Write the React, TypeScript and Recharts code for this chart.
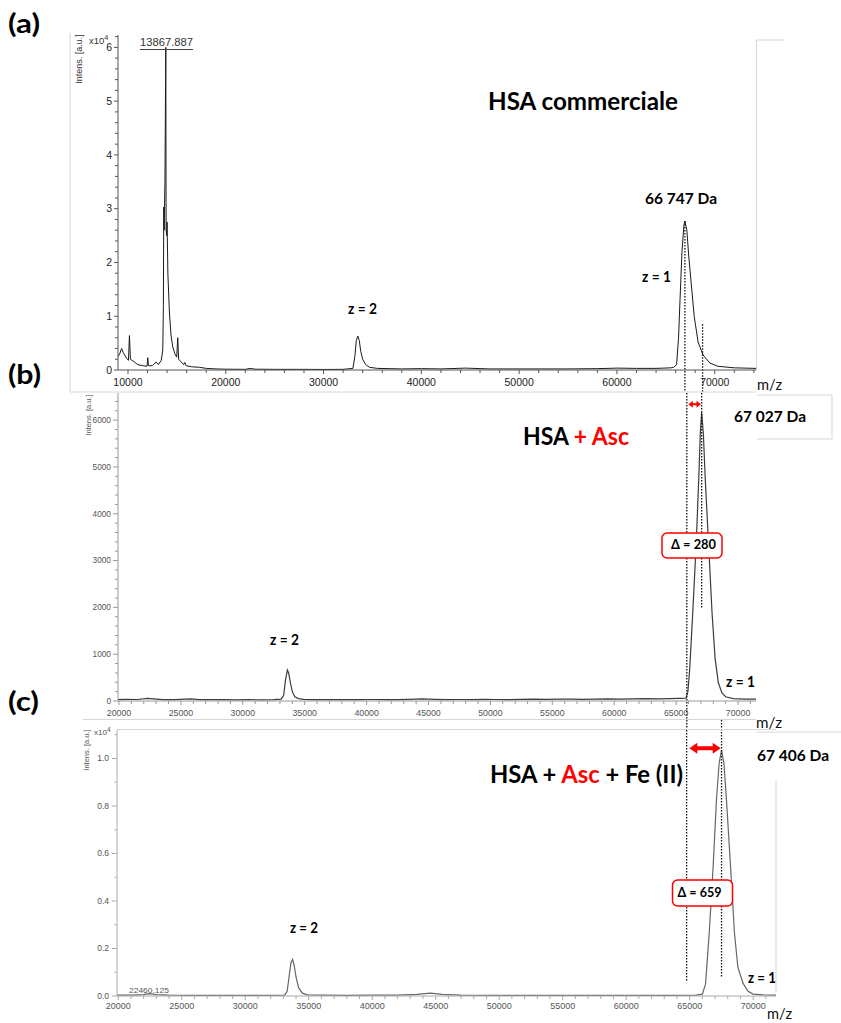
import React from 'react';
import { LineChart, Line, XAxis, YAxis, ReferenceLine } from 'recharts';

// (a) HSA commerciale  — intensity in x10^4 a.u.
const mzA = [8980, 9150, 9350, 9500, 9650, 9850, 10050, 10150, 10250, 10500,
  11000, 11500, 11950, 12020, 12100, 12500, 12880, 13100, 13400, 13560,
  13620, 13660, 13700, 13780, 13868, 13900, 13960, 14000, 14080, 14240,
  14400, 14580, 14800, 14980, 15090, 15180, 15440, 15700, 15810, 15950,
  16500, 17310, 18000, 19000, 20000, 22000, 22500, 23000, 25000, 28000,
  30000, 32000, 33000, 33200, 33350, 33500, 33650, 33800, 34000, 34300,
  34700, 35500, 38000, 40000, 42000, 44500, 47000, 50000, 55000, 58000,
  60000, 62000, 64000, 65500, 65800, 66100, 66300, 66450, 66650, 66850,
  66950, 67150, 67350, 67600, 67900, 68300, 68800, 69500, 70300, 72000, 74220];
const intA = [0.25, 0.3, 0.4, 0.33, 0.28, 0.22, 0.18, 0.64, 0.2, 0.17,
  0.1, 0.08, 0.07, 0.23, 0.08, 0.08, 0.15, 0.1, 0.18, 0.37,
  1.2, 3.03, 2.6, 3.5, 6.0, 2.6, 2.5, 2.75, 1.8, 1.06,
  0.65, 0.43, 0.3, 0.24, 0.6, 0.2, 0.15, 0.1, 0.14, 0.08,
  0.06, 0.05, 0.03, 0.02, 0.015, 0.012, 0.03, 0.015, 0.012, 0.012,
  0.01, 0.012, 0.03, 0.25, 0.55, 0.63, 0.55, 0.35, 0.2, 0.1,
  0.05, 0.03, 0.02, 0.025, 0.02, 0.035, 0.02, 0.02, 0.02, 0.025,
  0.035, 0.03, 0.03, 0.04, 0.05, 0.1, 0.6, 1.3, 2.2, 2.7,
  2.77, 2.6, 2.1, 1.6, 1.0, 0.52, 0.28, 0.13, 0.07, 0.04, 0.03];

// (b) HSA + Asc — intensity in a.u.
const mzB = [19920, 20500, 21500, 22300, 22800, 23500, 24500, 25800, 26500, 27500,
  28500, 29500, 30500, 31500, 32500, 33100, 33300, 33450, 33600, 33700,
  33850, 34000, 34200, 34500, 34900, 35500, 36500, 37500, 38500, 39500,
  40500, 41500, 42500, 43500, 44500, 45500, 46500, 47500, 48500, 49500,
  50500, 51500, 52500, 53500, 54500, 55500, 56500, 57500, 58500, 59500,
  60500, 61500, 62500, 63500, 64500, 65300, 65800, 65950, 66100, 66340,
  66610, 66820, 66950, 67060, 67200, 67360, 67630, 67900, 68150, 68410,
  68700, 69000, 69600, 70500, 71450];
const intB = [30, 35, 32, 55, 45, 30, 28, 45, 30, 28,
  30, 26, 28, 25, 28, 40, 120, 450, 660, 600,
  380, 200, 90, 50, 35, 30, 28, 30, 28, 30,
  32, 30, 28, 35, 45, 35, 30, 32, 30, 35,
  32, 30, 35, 40, 35, 38, 40, 35, 40, 45,
  40, 45, 50, 45, 50, 55, 60, 200, 700, 1880,
  3300, 4700, 5700, 6170, 5700, 4700, 3300, 1880, 900, 390,
  170, 90, 50, 40, 40];

// (c) HSA + Asc + Fe(II) — intensity in x10^4 a.u.
const mzC = [19900, 21000, 22000, 22460, 23000, 24000, 26000, 28000, 30000, 32000,
  33100, 33300, 33450, 33600, 33730, 33850, 34000, 34200, 34500, 34900,
  36000, 38000, 40000, 42000, 43500, 44600, 45500, 47000, 50000, 53000,
  56000, 59000, 62000, 64000, 65500, 66000, 66250, 66540, 66850, 67110,
  67320, 67510, 67700, 67900, 68220, 68530, 68800, 69210, 69600, 70000, 70800, 71800];
const intC = [0.004, 0.004, 0.006, 0.01, 0.006, 0.004, 0.003, 0.003, 0.003, 0.003,
  0.004, 0.02, 0.08, 0.14, 0.154, 0.13, 0.08, 0.035, 0.012, 0.005,
  0.004, 0.003, 0.004, 0.004, 0.007, 0.012, 0.007, 0.004, 0.003, 0.003,
  0.003, 0.003, 0.003, 0.003, 0.004, 0.008, 0.05, 0.264, 0.544, 0.825,
  0.98, 1.035, 0.98, 0.825, 0.544, 0.264, 0.12, 0.053, 0.02, 0.008, 0.005, 0.004];

const xTicksA = Array.from({ length: 33 }, (_, i) => 10000 + i * 2000);
const yTicksA = Array.from({ length: 32 }, (_, i) => +(i * 0.2).toFixed(1));
const xTicksBC = Array.from({ length: 52 }, (_, i) => 20000 + i * 1000);
const yTicksB = Array.from({ length: 33 }, (_, i) => i * 200);
const yTicksC = Array.from({ length: 12 }, (_, i) => +(i * 0.1).toFixed(1));

const specA = mzA.map((x, i) => ({ x, y: intA[i] }));
const specB = mzB.map((x, i) => ({ x, y: intB[i] }));
const specC = mzC.map((x, i) => ({ x, y: intC[i] }));

const AX = 'Liberation Sans, Arial, sans-serif';
const TXT = 'Lato, "Open Sans", sans-serif';

const yTick = (isMajor: (v: number) => boolean, fmt: (v: number) => string, fs: number, col: string, lc: string, maj = 5, min = 3, gap = 7) =>
  (props: any) => {
    const { x, y, payload } = props;
    const v = payload.value;
    const m = isMajor(v);
    return (
      <g>
        <line x1={x} x2={x - (m ? maj : min)} y1={y} y2={y} stroke={lc} strokeWidth={1} />
        {m && <text x={x - gap} y={y} dy="0.35em" textAnchor="end" fontSize={fs} fill={col} fontFamily={AX}>{fmt(v)}</text>}
      </g>
    );
  };

const xTick = (isMajor: (v: number) => boolean, fs: number, col: string, lc: string, off: number) =>
  (props: any) => {
    const { x, y, payload } = props;
    const v = payload.value;
    const m = isMajor(v);
    return (
      <g>
        <line x1={x} x2={x} y1={y} y2={y + (m ? 4 : 3)} stroke={lc} strokeWidth={1} />
        {m && <text x={x} y={y + off} textAnchor="middle" fontSize={fs} fill={col} fontFamily={AX}>{v}</text>}
      </g>
    );
  };

const dotted = { stroke: '#111', strokeWidth: 1.3, strokeDasharray: '1.5 1.5' };

const arrow = (x1: number, x2: number, y: number, sh: number, hl: number, hh: number) =>
  [[x1, y], [x1 + hl, y - hh], [x1 + hl, y - sh / 2], [x2 - hl, y - sh / 2], [x2 - hl, y - hh], [x2, y],
   [x2 - hl, y + hh], [x2 - hl, y + sh / 2], [x1 + hl, y + sh / 2], [x1 + hl, y + hh]].map(p => p.join(',')).join(' ');

const Overlay = () => (
  <svg width={841} height={1023} style={{ position: 'absolute', left: 0, top: 0, pointerEvents: 'none' }}>
    {/* frames */}
    <g stroke="#d6d6d6" strokeWidth={1} fill="none">
      <line x1={70} y1={33} x2={70} y2={392} />
      <line x1={70} y1={392} x2={756} y2={392} />
      <line x1={756.5} y1={40} x2={756.5} y2={370} />
      <line x1={756} y1={40} x2={784} y2={40} />
      <polyline points="757,395 832,395 832,439 757,439" />
      <line x1={83} y1={719.5} x2={756} y2={719.5} />
      <line x1={117} y1={729.5} x2={776} y2={729.5} />
      <line x1={756} y1={732} x2={841} y2={732} />
      <line x1={776} y1={780} x2={776} y2={993} />
    </g>

    {/* panel letters */}
    <g fontFamily={TXT} fontWeight={700} fontSize={26} fill="#000">
      <text x={8} y={33} textLength={32} lengthAdjust="spacingAndGlyphs">(a)</text>
      <text x={8} y={384} textLength={33} lengthAdjust="spacingAndGlyphs">(b)</text>
      <text x={8} y={711} textLength={31} lengthAdjust="spacingAndGlyphs">(c)</text>
    </g>

    {/* axis decorations */}
    <text transform="translate(79,59) rotate(-90)" textAnchor="middle" dy="0.35em" fontSize={9} fill="#333" fontFamily={AX}>Intens. [a.u.]</text>
    <text transform="translate(88,415) rotate(-90)" textAnchor="middle" dy="0.35em" fontSize={7.5} fill="#555" fontFamily={AX}>Intens. [a.u.]</text>
    <text transform="translate(86,750) rotate(-90)" textAnchor="middle" dy="0.35em" fontSize={7.5} fill="#555" fontFamily={AX}>Intens. [a.u.]</text>
    <text x={89} y={44} fontSize={9.5} fill="#333" fontFamily={AX}>x10<tspan dy={-4} fontSize={7.5}>4</tspan></text>
    <text x={94} y={735} fontSize={8} fill="#555" fontFamily={AX}>x10<tspan dy={-3.5} fontSize={6.5}>4</tspan></text>
    <text x={140} y={46} fontSize={10.5} fill="#333" fontFamily={AX} textLength={53} lengthAdjust="spacingAndGlyphs">13867.887</text>
    <line x1={140} y1={49.5} x2={193} y2={49.5} stroke="#444" strokeWidth={1} />
    <text x={129} y={993} fontSize={8} fill="#555" fontFamily={AX} textLength={40} lengthAdjust="spacingAndGlyphs">22460.125</text>

    {/* titles */}
    <g fontFamily={TXT} fontWeight={700} fill="#000">
      <text x={488} y={110} fontSize={25} textLength={190} lengthAdjust="spacingAndGlyphs">HSA commerciale</text>
      <text x={523} y={445} fontSize={24} textLength={106} lengthAdjust="spacingAndGlyphs">HSA <tspan fill="#ff0000">+ Asc</tspan></text>
      <text x={490} y={783} fontSize={24} textLength={193} lengthAdjust="spacingAndGlyphs">HSA + <tspan fill="#ff0000">Asc</tspan> + Fe (II)</text>

      <text x={645} y={204} fontSize={16} textLength={72} lengthAdjust="spacingAndGlyphs">66 747 Da</text>
      <text x={734} y={422} fontSize={16} textLength={72} lengthAdjust="spacingAndGlyphs">67 027 Da</text>
      <text x={757} y={761} fontSize={16} textLength={72} lengthAdjust="spacingAndGlyphs">67 406 Da</text>

      <text x={642} y={282} fontSize={15} textLength={29} lengthAdjust="spacingAndGlyphs">z = 1</text>
      <text x={348} y={314} fontSize={15} textLength={29} lengthAdjust="spacingAndGlyphs">z = 2</text>
      <text x={270} y={645} fontSize={15} textLength={29} lengthAdjust="spacingAndGlyphs">z = 2</text>
      <text x={726} y={687} fontSize={15} textLength={29} lengthAdjust="spacingAndGlyphs">z = 1</text>
      <text x={290} y={933} fontSize={15} textLength={28} lengthAdjust="spacingAndGlyphs">z = 2</text>
      <text x={748} y={983} fontSize={15} textLength={28} lengthAdjust="spacingAndGlyphs">z = 1</text>
    </g>
    <g fontFamily={TXT} fontSize={16} fill="#111">
      <text x={757} y={390} textLength={25} lengthAdjust="spacingAndGlyphs">m/z</text>
      <text x={756} y={728} textLength={26} lengthAdjust="spacingAndGlyphs">m/z</text>
      <text x={767} y={1019} textLength={25} lengthAdjust="spacingAndGlyphs">m/z</text>
    </g>

    {/* shift arrows */}
    <polygon points={arrow(688.3, 701, 404.3, 2, 4.5, 3.5)} fill="#ff0000" />
    <polygon points={arrow(689.3, 720.7, 748.3, 4, 8, 5.5)} fill="#ff0000" />

    {/* delta boxes */}
    <rect x={662} y={533} width={60} height={25} rx={5} fill="#fff" stroke="#ff0000" strokeWidth={1.5} />
    <text x={671} y={549} fontFamily={TXT} fontWeight={700} fontSize={14} textLength={45} lengthAdjust="spacingAndGlyphs">Δ = 280</text>
    <rect x={672.5} y={880} width={60} height={26} rx={5} fill="#fff" stroke="#ff0000" strokeWidth={1.5} />
    <text x={677.5} y={897} fontFamily={TXT} fontWeight={700} fontSize={14} textLength={44} lengthAdjust="spacingAndGlyphs">Δ = 659</text>
  </svg>
);

const App: React.FC = () => (
  <div style={{ position: 'absolute', left: 0, top: 0, width: 841, height: 1023, background: '#fff', overflow: 'hidden' }}>
    {/* (a) */}
    <div style={{ position: 'absolute', left: 0, top: 0 }}>
      <LineChart width={841} height={400} data={specA} margin={{ top: 35, right: 85, bottom: 10, left: 78 }}>
        <XAxis type="number" dataKey="x" domain={[8980, 74220]} allowDataOverflow ticks={xTicksA} interval={0}
          tickSize={0} tickMargin={0} tickLine={false} height={20} axisLine={{ stroke: '#555' }}
          tick={xTick(v => v % 10000 === 0, 10.5, '#222', '#555', 15.5)} />
        <YAxis type="number" domain={[0, 6.23]} allowDataOverflow ticks={yTicksA} interval={0} width={40}
          tickSize={0} tickMargin={0} tickLine={false} axisLine={{ stroke: '#555' }}
          tick={yTick(v => Number.isInteger(v), v => String(v), 10.5, '#222', '#555', 4, 3, 6)} />
        <Line type="linear" dataKey="y" stroke="#1a1a1a" strokeWidth={1} dot={false} isAnimationActive={false} />
        <ReferenceLine segment={[{ x: 66950, y: 2.77 }, { x: 66950, y: -0.41 }]} ifOverflow="visible" {...dotted} />
        <ReferenceLine segment={[{ x: 68760, y: 0.85 }, { x: 68760, y: -0.41 }]} ifOverflow="visible" {...dotted} />
      </LineChart>
    </div>

    {/* (b) */}
    <div style={{ position: 'absolute', left: 0, top: 380 }}>
      <LineChart width={841} height={350} data={specB} margin={{ top: 13, right: 85, bottom: 13, left: 78 }}>
        <XAxis type="number" dataKey="x" domain={[19920, 71450]} allowDataOverflow ticks={xTicksBC} interval={0}
          tickSize={0} tickMargin={0} tickLine={false} height={16} axisLine={{ stroke: '#999' }}
          tick={xTick(v => v % 5000 === 0, 8.8, '#555', '#999', 15)} />
        <YAxis type="number" domain={[0, 6580]} allowDataOverflow ticks={yTicksB} interval={0} width={40}
          tickSize={0} tickMargin={0} tickLine={false} axisLine={{ stroke: '#999' }}
          tick={yTick(v => v % 1000 === 0, v => String(v), 8.3, '#555', '#999', 5, 3, 7)} />
        <Line type="linear" dataKey="y" stroke="#3c3c3c" strokeWidth={1.2} dot={false} isAnimationActive={false} />
        <ReferenceLine segment={[{ x: 65860, y: 6580 }, { x: 65860, y: -620 }]} ifOverflow="visible" {...dotted} />
        <ReferenceLine segment={[{ x: 67060, y: 6580 }, { x: 67060, y: 2000 }]} ifOverflow="visible" {...dotted} />
      </LineChart>
    </div>

    {/* (c) */}
    <div style={{ position: 'absolute', left: 0, top: 715 }}>
      <LineChart width={841} height={308} data={specC} margin={{ top: 15, right: 65, bottom: 11, left: 77 }}>
        <XAxis type="number" dataKey="x" domain={[19900, 71800]} allowDataOverflow ticks={xTicksBC} interval={0}
          tickSize={0} tickMargin={0} tickLine={false} height={16} axisLine={{ stroke: '#aaa' }}
          tick={xTick(v => v % 5000 === 0, 9, '#555', '#aaa', 13)} />
        <YAxis type="number" domain={[0, 1.12]} allowDataOverflow ticks={yTicksC} interval={0} width={40}
          tickSize={0} tickMargin={0} tickLine={false} axisLine={{ stroke: '#aaa' }}
          tick={yTick(v => Math.round(v * 10) % 2 === 0, v => v.toFixed(1), 8.5, '#555', '#aaa', 5, 2.5, 8)} />
        <Line type="linear" dataKey="y" stroke="#666" strokeWidth={1.2} dot={false} isAnimationActive={false} />
        <ReferenceLine segment={[{ x: 64760, y: 1.12 }, { x: 64760, y: 0.063 }]} ifOverflow="visible" {...dotted} />
        <ReferenceLine segment={[{ x: 67510, y: 1.162 }, { x: 67510, y: 0.08 }]} ifOverflow="visible" {...dotted} />
      </LineChart>
    </div>

    <Overlay />
  </div>
);

export default App;
